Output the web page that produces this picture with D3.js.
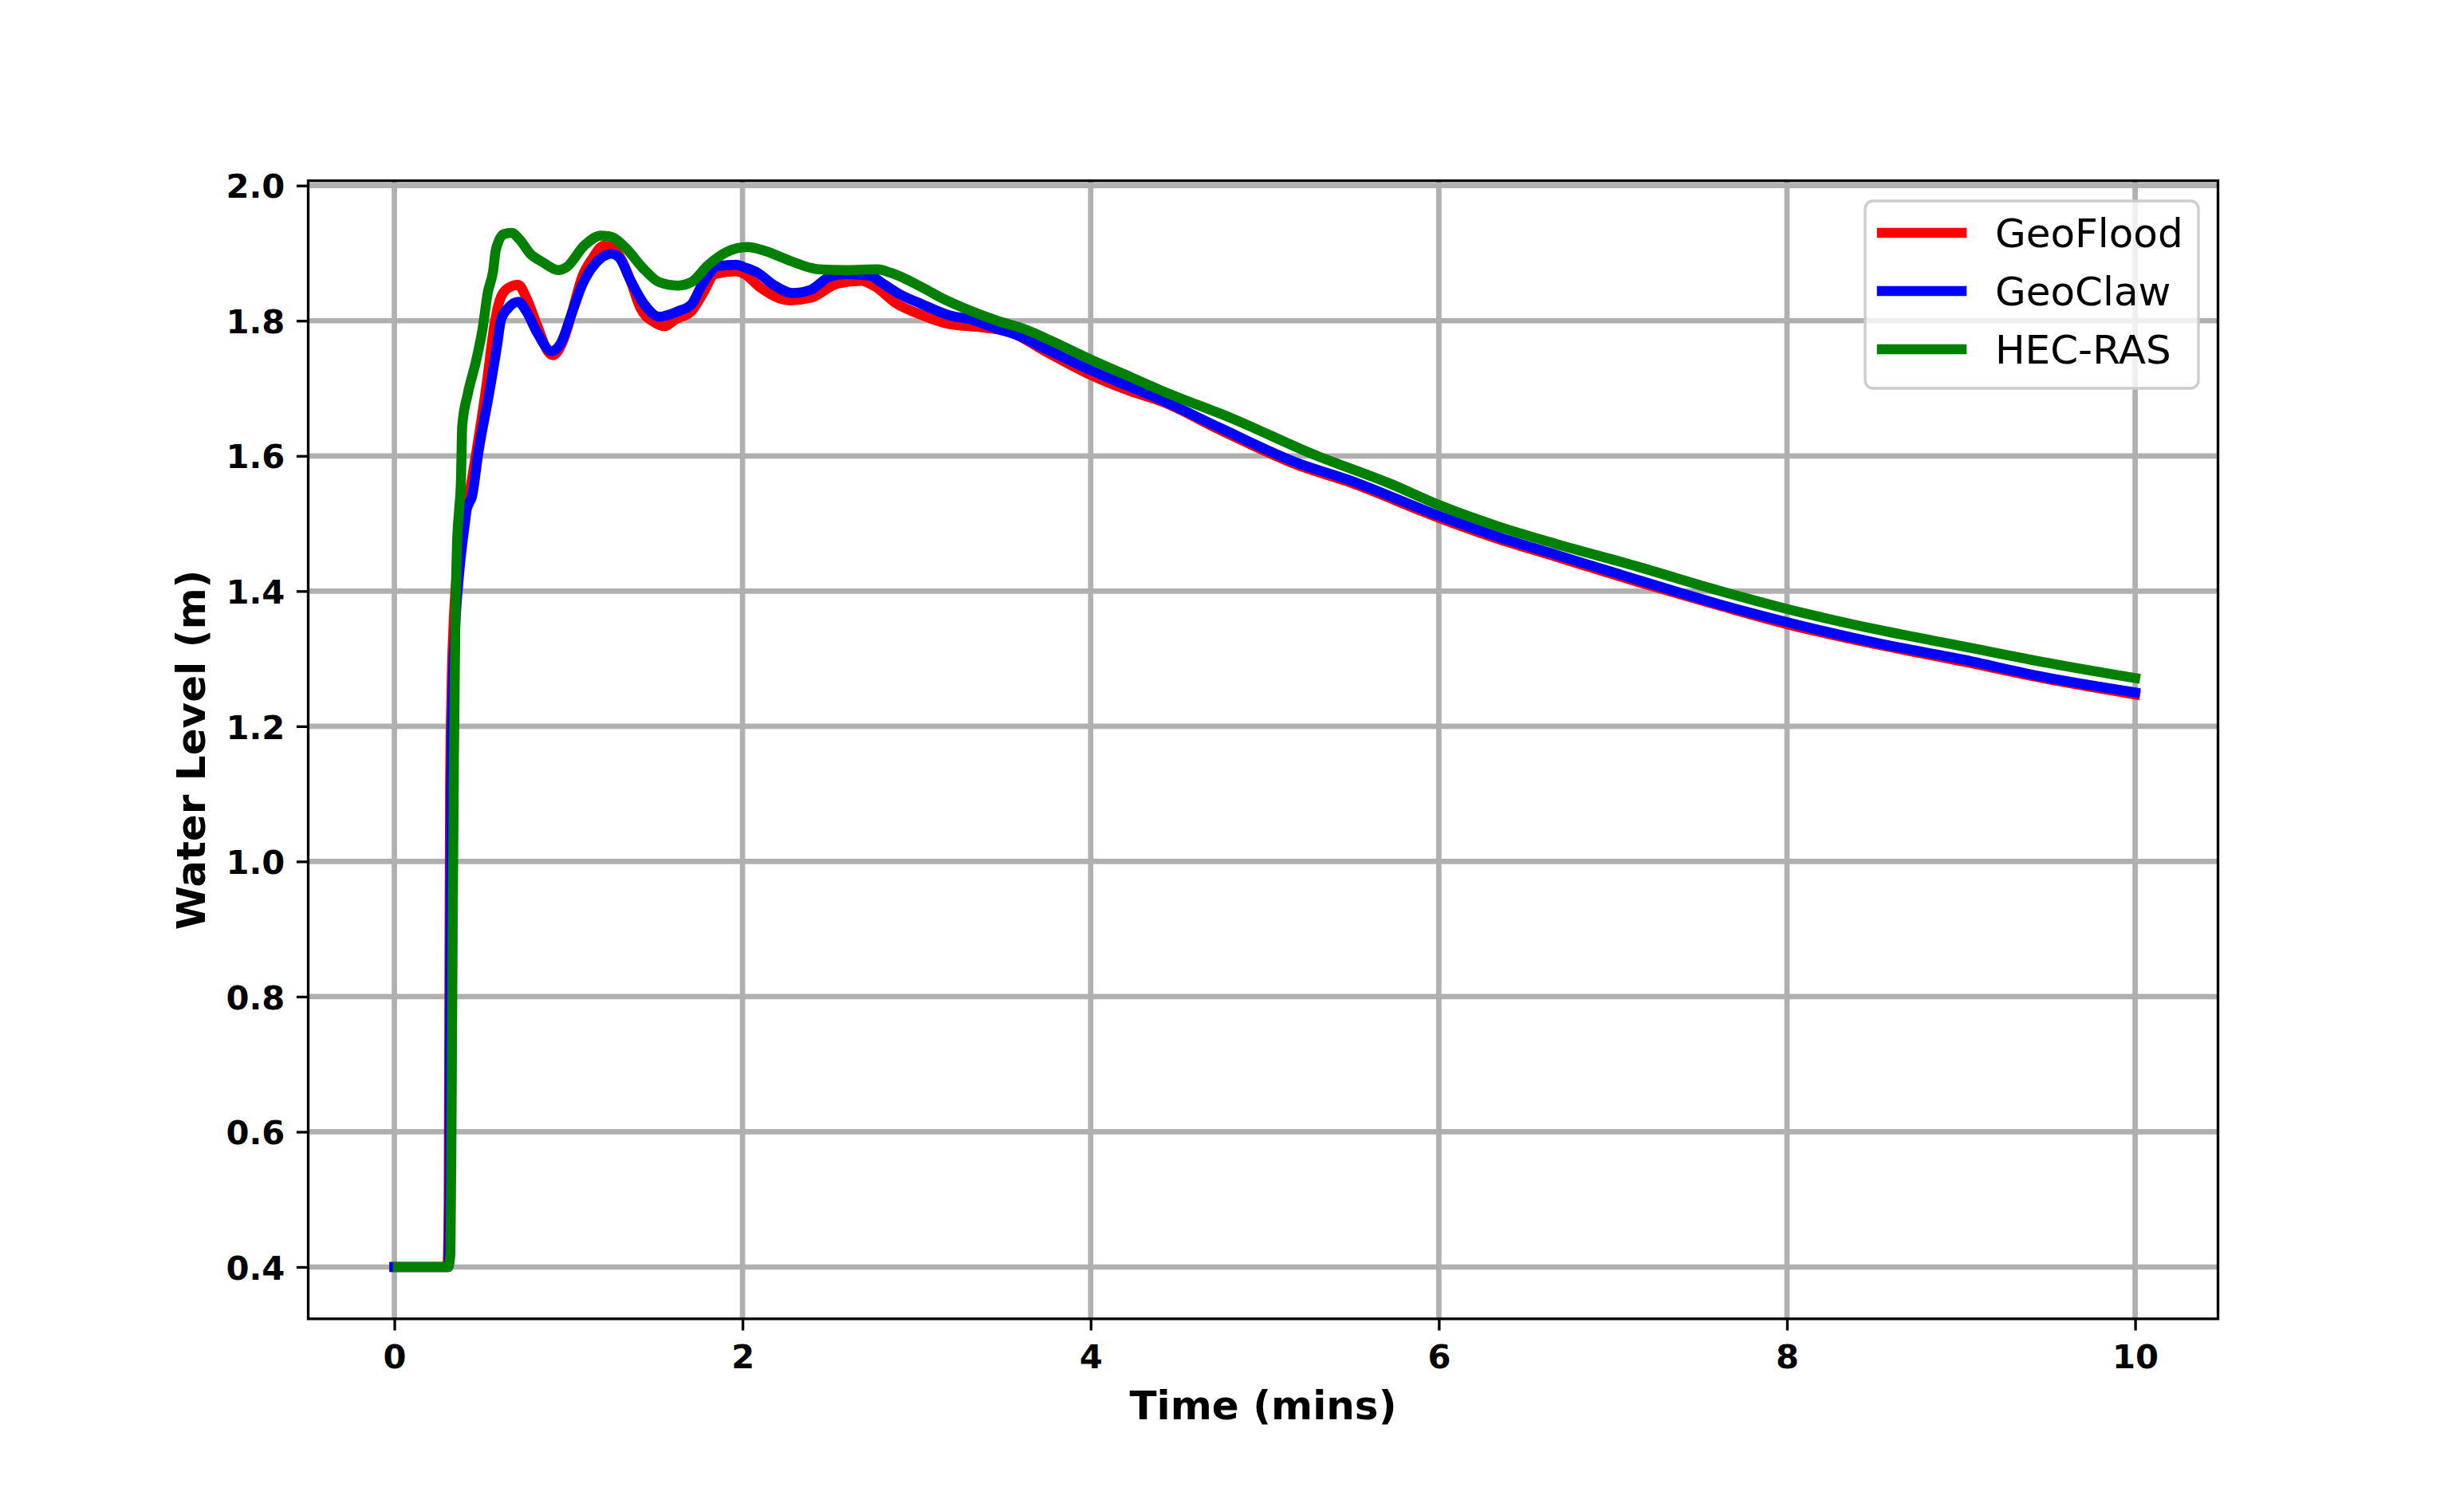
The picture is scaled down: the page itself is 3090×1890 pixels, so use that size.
<!DOCTYPE html>
<html>
<head>
<meta charset="utf-8">
<script src="https://cdn.jsdelivr.net/npm/d3@7"></script>
<style>
  html, body { margin: 0; padding: 0; background: #fff; }
  svg { display: block; }
</style>
</head>
<body>
<div id="chart"></div>
<script>
// ---------------- data ----------------
const seriesNames = ["GeoFlood", "GeoClaw", "HEC-RAS"];
const seriesColors = ["#ff0000", "#0000ff", "#008000"];

const xTicks = [0, 2, 4, 6, 8, 10];
const yTicks = [0.4, 0.6, 0.8, 1.0, 1.2, 1.4, 1.6, 1.8, 2.0];

const geofloodT = [0, 0.305, 0.312, 0.316, 0.32, 0.328, 0.34, 0.36, 0.38, 0.407, 0.483, 0.529, 0.575, 0.605, 0.651, 0.712, 0.758, 0.819, 0.881, 0.911, 0.964, 1.018, 1.079, 1.14, 1.201, 1.247, 1.308, 1.354, 1.415, 1.492, 1.553, 1.614, 1.706, 1.767, 1.843, 1.965, 2.011, 2.103, 2.271, 2.393, 2.546, 2.683, 2.76, 2.882, 3.035, 3.188, 3.386, 3.539, 3.738, 3.998, 4.227, 4.413, 4.747, 5.203, 5.466, 6.004, 6.343, 6.671, 7.138, 7.605, 8.0, 8.538, 9.005, 9.472, 10.0];
const geofloodV = [0.4, 0.4, 0.5, 0.8, 1.1, 1.25, 1.35, 1.43, 1.48, 1.511, 1.625, 1.704, 1.794, 1.83, 1.848, 1.853, 1.834, 1.794, 1.755, 1.749, 1.767, 1.81, 1.865, 1.893, 1.911, 1.909, 1.889, 1.861, 1.818, 1.798, 1.792, 1.802, 1.814, 1.838, 1.869, 1.873, 1.869, 1.849, 1.83, 1.834, 1.855, 1.859, 1.851, 1.826, 1.808, 1.795, 1.79, 1.783, 1.755, 1.72, 1.696, 1.68, 1.638, 1.585, 1.563, 1.508, 1.477, 1.451, 1.414, 1.379, 1.351, 1.32, 1.296, 1.271, 1.247];

const geoclawT = [0, 0.31, 0.316, 0.32, 0.325, 0.335, 0.35, 0.37, 0.39, 0.405, 0.414, 0.425, 0.445, 0.483, 0.544, 0.59, 0.613, 0.651, 0.712, 0.758, 0.819, 0.903, 0.957, 1.018, 1.079, 1.156, 1.247, 1.293, 1.354, 1.431, 1.522, 1.629, 1.706, 1.767, 1.858, 1.965, 2.011, 2.087, 2.179, 2.286, 2.393, 2.5, 2.592, 2.729, 2.806, 2.898, 3.035, 3.188, 3.31, 3.463, 3.554, 3.738, 3.998, 4.227, 4.378, 4.747, 5.203, 5.466, 6.004, 6.343, 6.671, 7.138, 7.605, 8.0, 8.538, 9.005, 9.472, 10.0];
const geoclawV = [0.4, 0.4, 0.5, 0.8, 1.1, 1.25, 1.35, 1.42, 1.47, 1.5, 1.519, 1.528, 1.539, 1.606, 1.692, 1.763, 1.802, 1.818, 1.828, 1.814, 1.783, 1.755, 1.767, 1.81, 1.853, 1.885, 1.899, 1.893, 1.861, 1.826, 1.806, 1.814, 1.824, 1.853, 1.881, 1.883, 1.879, 1.871, 1.853, 1.841, 1.846, 1.865, 1.869, 1.867, 1.855, 1.84, 1.824, 1.808, 1.802, 1.788, 1.781, 1.759, 1.727, 1.702, 1.686, 1.641, 1.588, 1.566, 1.511, 1.48, 1.454, 1.417, 1.381, 1.354, 1.322, 1.299, 1.273, 1.25];

const hecrasT = [0.02, 0.31, 0.322, 0.328, 0.335, 0.342, 0.35, 0.36, 0.372, 0.382, 0.39, 0.422, 0.468, 0.506, 0.537, 0.567, 0.583, 0.628, 0.674, 0.72, 0.781, 0.85, 0.941, 0.987, 1.094, 1.186, 1.247, 1.324, 1.431, 1.522, 1.629, 1.706, 1.797, 1.904, 2.027, 2.133, 2.271, 2.439, 2.592, 2.775, 2.851, 3.035, 3.157, 3.279, 3.463, 3.615, 3.768, 3.998, 4.227, 4.413, 4.817, 5.273, 5.729, 6.004, 6.343, 6.671, 7.138, 7.605, 8.0, 8.538, 9.005, 9.472, 10.0];
const hecrasV = [0.4, 0.4, 0.42, 0.6, 0.9, 1.15, 1.35, 1.47, 1.52, 1.56, 1.645, 1.692, 1.739, 1.787, 1.842, 1.873, 1.905, 1.928, 1.93, 1.92, 1.899, 1.887, 1.875, 1.879, 1.912, 1.926, 1.924, 1.909, 1.877, 1.857, 1.852, 1.857, 1.881, 1.901, 1.909, 1.903, 1.889, 1.876, 1.875, 1.876, 1.871, 1.849, 1.832, 1.818, 1.8, 1.788, 1.771, 1.743, 1.717, 1.696, 1.655, 1.603, 1.558, 1.527, 1.4955, 1.47, 1.4365, 1.401, 1.3736, 1.342, 1.3185, 1.295, 1.2713];

const seriesT = [geofloodT, geoclawT, hecrasT];
const seriesV = [geofloodV, geoclawV, hecrasV];

// ---------------- layout ----------------
const W = 3090, H = 1890;
const L = 386.5, R = 2781.5, T = 226.7, B = 1654;

const svg = d3.select("#chart").append("svg")
  .attr("width", W).attr("height", H)
  .attr("viewBox", `0 0 ${W} ${H}`);

svg.append("rect").attr("width", W).attr("height", H).attr("fill", "#fff");

const x = d3.scaleLinear().domain([-0.495, 10.476]).range([L, R]);
const y = d3.scaleLinear().domain([0.3233, 2.0071]).range([B, T]);

const clipId = "plotclip";
svg.append("clipPath").attr("id", clipId)
  .append("rect").attr("x", L).attr("y", T).attr("width", R - L).attr("height", B - T);

// grid
const grid = svg.append("g").attr("clip-path", `url(#${clipId})`);
grid.selectAll("line.gx").data(xTicks).enter().append("line")
  .attr("x1", d => x(d)).attr("x2", d => x(d))
  .attr("y1", T).attr("y2", B)
  .attr("stroke", "#b0b0b0").attr("stroke-width", 6.7);
grid.selectAll("line.gy").data(yTicks).enter().append("line")
  .attr("x1", L).attr("x2", R)
  .attr("y1", d => y(d)).attr("y2", d => y(d))
  .attr("stroke", "#b0b0b0").attr("stroke-width", 6.7);

// lines
const lineGen = d3.line().x(d => x(d[0])).y(d => y(d[1])).curve(d3.curveMonotoneX);
const lines = svg.append("g").attr("clip-path", `url(#${clipId})`);
seriesNames.forEach((name, i) => {
  const pts = seriesT[i].map((t, k) => [t, seriesV[i][k]]);
  lines.append("path")
    .attr("d", lineGen(pts))
    .attr("fill", "none")
    .attr("stroke", seriesColors[i])
    .attr("stroke-width", 12.5)
    .attr("stroke-linejoin", "round")
    .attr("stroke-linecap", "square");
});

// axes
const tickFont = "'DejaVu Sans', sans-serif";
const xAxis = d3.axisBottom(x).tickValues(xTicks).tickFormat(d3.format("d"))
  .tickSize(14.6).tickPadding(14.6);
const yAxis = d3.axisLeft(y).tickValues(yTicks).tickFormat(d3.format(".1f"))
  .tickSize(14.6).tickPadding(14.6);

const gx = svg.append("g").attr("transform", `translate(0,${B})`).call(xAxis);
const gy = svg.append("g").attr("transform", `translate(${L},0)`).call(yAxis);
[gx, gy].forEach(g => {
  g.select(".domain").remove();
  g.selectAll(".tick line").attr("stroke", "#000").attr("stroke-width", 3.33);
  g.selectAll(".tick text")
    .attr("font-family", tickFont)
    .attr("font-weight", "bold")
    .attr("font-size", 41.7)
    .attr("fill", "#000");
});
gx.selectAll(".tick text").attr("dy", null).attr("y", 62);
gy.selectAll(".tick text").attr("dy", null).attr("dominant-baseline", null).attr("y", 15.2);

// frame
svg.append("rect")
  .attr("x", L).attr("y", T).attr("width", R - L).attr("height", B - T)
  .attr("fill", "none").attr("stroke", "#000").attr("stroke-width", 3.33);

// axis labels
svg.append("text")
  .attr("x", (L + R) / 2).attr("y", 1780)
  .attr("text-anchor", "middle")
  .attr("font-family", tickFont).attr("font-weight", "bold").attr("font-size", 50)
  .text("Time (mins)");
svg.append("text")
  .attr("transform", `translate(257,${(T + B) / 2}) rotate(-90)`)
  .attr("text-anchor", "middle")
  .attr("font-family", tickFont).attr("font-weight", "bold").attr("font-size", 50)
  .text("Water Level (m)");

// legend
const lg = svg.append("g");
const lx = 2339, ly = 252, lw = 418, lh = 235;
lg.append("rect")
  .attr("x", lx).attr("y", ly).attr("width", lw).attr("height", lh)
  .attr("rx", 10).attr("ry", 10)
  .attr("fill", "#fff").attr("fill-opacity", 0.8)
  .attr("stroke", "#cccccc").attr("stroke-width", 3.33);
const rowY = [292, 365, 438];
seriesNames.forEach((name, i) => {
  lg.append("line")
    .attr("x1", 2360).attr("x2", 2460)
    .attr("y1", rowY[i]).attr("y2", rowY[i])
    .attr("stroke", seriesColors[i]).attr("stroke-width", 12.5)
    .attr("stroke-linecap", "square");
  lg.append("text")
    .attr("x", 2502).attr("y", rowY[i] + 18.2)
    .attr("font-family", tickFont).attr("font-size", 50).attr("fill", "#000")
    .text(name);
});
</script>
</body>
</html>
